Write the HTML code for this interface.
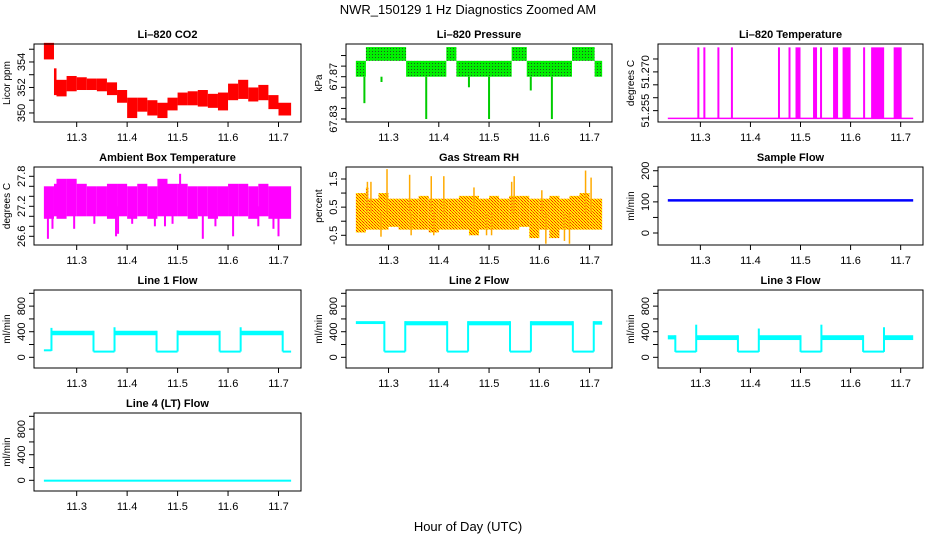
<!DOCTYPE html>
<html><head><meta charset="utf-8"><style>
body{margin:0;background:#fff}
svg{display:block;font-family:"Liberation Sans",Arial,sans-serif}
</style></head><body>
<svg id="c" width="936" height="540" viewBox="0 0 936 540" xmlns="http://www.w3.org/2000/svg">
<defs>
<pattern id="pg" width="3" height="3" patternUnits="userSpaceOnUse"><rect width="3" height="3" fill="#00f000"/><rect width="1" height="1" fill="#225522"/></pattern>
<pattern id="py" width="3" height="3" patternUnits="userSpaceOnUse"><rect width="3" height="3" fill="#ffee00"/><rect width="1" height="1" fill="#ff2000"/><rect x="1" y="1" width="1" height="1" fill="#ff6000"/><rect x="2" y="2" width="1" height="1" fill="#ff3000"/></pattern>
</defs>
<text x="468" y="14" text-anchor="middle" font-size="13">NWR_150129  1 Hz Diagnostics Zoomed AM</text>
<text x="468" y="531" text-anchor="middle" font-size="13">Hour of Day (UTC)</text>
</svg>
<script>
// ---- data ----
const binStart = [11.235,11.255,11.26,11.28,11.30,11.32,11.34,11.36,11.38,11.40,11.42,11.44,11.46,11.48,11.50,11.52,11.54,11.56,11.58,11.60,11.62,11.64,11.66,11.68,11.70];
const binEnd   = [11.255,11.26,11.28,11.30,11.32,11.34,11.36,11.38,11.40,11.42,11.44,11.46,11.48,11.50,11.52,11.54,11.56,11.58,11.60,11.62,11.64,11.66,11.68,11.70,11.725];
const co2Lo = [354.2,351.4,351.3,351.7,351.8,351.8,351.7,351.4,350.8,349.6,350.1,349.8,349.6,350.2,350.6,350.6,350.5,350.4,350.2,351.0,351.1,350.9,351.0,350.3,349.8];
const co2Hi = [355.5,353.5,352.6,352.9,352.8,352.7,352.7,352.4,351.8,351.2,351.2,351.0,350.8,351.2,351.6,351.7,351.8,351.5,351.6,352.3,352.6,352.0,352.2,351.4,350.8];
const ambLo = [26.95,27.0,26.95,27.0,27.0,27.0,27.0,26.95,27.0,26.95,27.0,26.95,27.0,27.0,27.0,26.95,27.0,26.95,27.0,27.0,27.0,26.95,27.0,26.95,26.95];
const ambHi = [27.6,27.65,27.75,27.75,27.65,27.6,27.6,27.65,27.65,27.6,27.65,27.6,27.75,27.65,27.65,27.6,27.6,27.6,27.6,27.65,27.65,27.6,27.65,27.6,27.6];
const ambSpikeT = [11.243,11.252,11.295,11.335,11.378,11.382,11.41,11.455,11.475,11.49,11.505,11.55,11.575,11.61,11.66,11.69,11.70];
const ambSpikeV = [26.55,26.75,26.75,26.85,26.6,26.65,26.85,26.8,26.8,26.85,27.85,26.55,26.8,26.6,26.8,26.75,26.6];
const rhLo = [-0.4,-0.3,-0.3,-0.3,-0.2,-0.3,-0.3,-0.3,-0.4,-0.3,-0.3,-0.3,-0.5,-0.3,-0.3,-0.3,-0.3,-0.2,-0.6,-0.3,-0.6,-0.3,-0.3,-0.3,-0.3];
const rhHi = [1.0,1.2,0.8,1.0,0.8,0.8,0.8,0.9,0.8,0.8,0.8,0.9,0.9,0.8,0.9,0.8,0.9,0.9,0.8,0.8,0.9,0.8,0.9,1.0,0.8];
const rhSpikeT = [11.258,11.265,11.297,11.342,11.385,11.41,11.47,11.545,11.55,11.605,11.692,11.703,11.285,11.345,11.39,11.495,11.505,11.613,11.65,11.66];
const rhSpikeV = [1.4,1.4,1.85,1.65,1.6,1.6,1.2,1.4,1.6,1.1,1.8,1.55,-0.55,-0.5,-0.5,-0.5,-0.5,-0.8,-0.7,-0.8];
const presStart = [11.235,11.255,11.335,11.415,11.435,11.545,11.575,11.665,11.71];
const presEnd   = [11.255,11.335,11.415,11.435,11.545,11.575,11.665,11.71,11.725];
const presLo = [67.870,67.885,67.870,67.885,67.870,67.885,67.870,67.885,67.870];
const presHi = [67.885,67.898,67.885,67.898,67.885,67.898,67.885,67.898,67.885];
const presSpikeT = [11.252,11.286,11.375,11.46,11.50,11.583,11.625];
const presSpikeV = [67.845,67.865,67.830,67.860,67.830,67.857,67.830];
const tempHighStart = [11.294,11.306,11.334,11.361,11.455,11.476,11.490,11.525,11.539,11.565,11.584,11.625,11.641,11.686];
const tempHighEnd   = [11.296,11.308,11.336,11.363,11.457,11.478,11.500,11.533,11.541,11.575,11.600,11.628,11.667,11.702];
const tempBase = 51.252, tempHigh = 51.2795;
const sampleT = [11.235,11.725];
const sampleV = [105,105];
const l1T  = [11.235,11.25,11.3333,11.375,11.4583,11.5,11.5833,11.625,11.7083,11.725];
const l1Lo = [100,345,90,345,90,345,90,345,90];
const l1Hi = [125,415,105,415,105,415,105,415,105];
const l2T  = [11.235,11.2917,11.3333,11.4167,11.4583,11.5417,11.5833,11.6667,11.7083,11.725];
const l2Lo = [520,90,500,90,500,90,500,90,510];
const l2Hi = [565,105,565,105,565,105,565,105,565];
const l3T  = [11.235,11.25,11.2917,11.375,11.4167,11.5,11.5417,11.625,11.6667,11.725];
const l3Lo = [280,85,270,85,270,85,270,85,270];
const l3Hi = [345,105,345,105,345,105,345,105,345];
const l3Spike = [0,0,510,0,450,0,510,0,470];
const l4T  = [11.235,11.725];
const l4Lo = [0];
const l4Hi = [10];
const xTicks = [11.3,11.4,11.5,11.6,11.7];

// ---- layout ----
const svg = document.getElementById('c');
const NS = 'http://www.w3.org/2000/svg';
const colL = [34,346,658], colR = [301,612,923];
const rowT = [44,167,290,413], H = 78;
const XMIN = 11.2154, XMAX = 11.7446;
function mk(tag, attrs, parent){const e=document.createElementNS(NS,tag);for(const k in attrs)e.setAttribute(k,attrs[k]);(parent||svg).appendChild(e);return e;}

function panel(name, title, ytitle, col, row, ylo, yhi, ticks, labels){
  const g = mk('g',{});
  
  
  const L=colL[col], R=colR[col], T=rowT[row], B=T+H;
  const sx = v => L + (v-XMIN)/(XMAX-XMIN)*(R-L);
  const sy = v => B - (v-ylo)/(yhi-ylo)*(B-T);
  const marks = mk('g',{},g);
  
  
  const box = mk('rect',{x:L,y:T,width:R-L,height:H,fill:'none',stroke:'#000','stroke-width':1},g);
  
  
  const t = mk('text',{x:(L+R)/2,y:T-6,'text-anchor':'middle','font-size':11,'font-weight':'bold'},g);
  t.textContent = title;
  
  
  const xa = mk('g',{stroke:'#000','stroke-width':1},g);
  
  
  mk('line',{x1:sx(xTicks[0]),x2:sx(xTicks[xTicks.length-1]),y1:B,y2:B},xa);
  xTicks.forEach(v=>{
    mk('line',{x1:sx(v),x2:sx(v),y1:B,y2:B+5},xa);
    const tl = mk('text',{x:sx(v),y:B+19,'text-anchor':'middle','font-size':11,stroke:'none'},xa);
    tl.textContent = v.toFixed(1);
    
    
  });
  const ya = mk('g',{stroke:'#000','stroke-width':1},g);
  
  
  mk('line',{x1:L,x2:L,y1:sy(ticks[0]),y2:sy(ticks[ticks.length-1])},ya);
  ticks.forEach(v=>mk('line',{x1:L-5,x2:L,y1:sy(v),y2:sy(v)},ya));
  labels.forEach(v=>{
    const y = sy(parseFloat(v));
    const tl = mk('text',{x:L-9,y:y,'text-anchor':'middle','font-size':11,stroke:'none',transform:`rotate(-90 ${L-9} ${y})`},ya);
    tl.textContent = v;
    
    
  });
  const yt = mk('text',{x:L-24,y:(T+B)/2,'text-anchor':'middle','font-size':10,transform:`rotate(-90 ${L-24} ${(T+B)/2})`},g);
  yt.textContent = ytitle;
  
  
  return {sx,sy,g:marks};
}
function bins(p, s, e, lo, hi, fill){
  for(let i=0;i<s.length;i++){
    const y1=p.sy(hi[i]), y2=p.sy(lo[i]);
    const r = mk('rect',{x:p.sx(s[i]),y:y1,width:Math.max(1,p.sx(e[i])-p.sx(s[i])),height:Math.max(1.5,y2-y1),fill:fill},p.g);
    
    
  }
}
function spikes(p, ts, vs, base, color, w){
  for(let i=0;i<ts.length;i++){
    const l = mk('line',{x1:p.sx(ts[i]),x2:p.sx(ts[i]),y1:p.sy(base),y2:p.sy(vs[i]),stroke:color,'stroke-width':w||1.5},p.g);
    
    
  }
}
function steps(p, T, lo, hi, color, spk){
  for(let i=0;i<lo.length;i++){
    const x1=p.sx(T[i]), x2=p.sx(T[i+1]);
    const r = mk('rect',{x:x1,y:p.sy(hi[i]),width:x2-x1,height:Math.max(2,p.sy(lo[i])-p.sy(hi[i])),fill:color},p.g);
    
    
    if(i>0){
      const top = Math.max(hi[i],hi[i-1], spk?spk[i]:0), bot = Math.min(lo[i],lo[i-1]);
      const l = mk('line',{x1:x1,x2:x1,y1:p.sy(top),y2:p.sy(bot),stroke:color,'stroke-width':2},p.g);
      
      
    }
  }
}

let p = panel('co2','Li–820 CO2','Licor ppm',0,0,349.29,355.41,[350,351,352,353,354,355],['350','352','354']);
bins(p,binStart,binEnd,co2Lo,co2Hi,'#ff0000');
p = panel('pressure','Li–820 Pressure','kPa',1,0,67.8272,67.9009,[67.83,67.84,67.85,67.86,67.87,67.88,67.89],['67.83','67.87']);
bins(p,presStart,presEnd,presLo,presHi,'url(#pg)');
spikes(p,presSpikeT,presSpikeV,67.87,'#00cc00',2);
p = panel('li820-temperature','Li–820 Temperature','degrees C',2,0,51.2506,51.2808,[51.255,51.26,51.265,51.27,51.275],['51.255','51.270']);
mk('line',{x1:p.sx(11.235),x2:p.sx(11.725),y1:p.sy(tempBase),y2:p.sy(tempBase),stroke:'#ff00ff','stroke-width':1.5},p.g);
for(let i=0;i<tempHighStart.length;i++){
  const r = mk('rect',{x:p.sx(tempHighStart[i]),y:p.sy(tempHigh),width:Math.max(2,p.sx(tempHighEnd[i])-p.sx(tempHighStart[i])),height:p.sy(tempBase)-p.sy(tempHigh),fill:'#ff00ff'},p.g);
  
  
}
p = panel('ambient-box-temperature','Ambient Box Temperature','degrees C',0,1,26.426,27.986,[26.6,26.8,27.0,27.2,27.4,27.6,27.8],['26.6','27.2','27.8']);
bins(p,binStart,binEnd,ambLo,ambHi,'#ff00ff');
spikes(p,ambSpikeT,ambSpikeV,27.2,'#ff00ff',2);
p = panel('gas-stream-rh','Gas Stream RH','percent',1,1,-0.845,1.926,[-0.5,0,0.5,1,1.5],['-0.5','0.5','1.5']);
bins(p,binStart,binEnd,rhLo,rhHi,'url(#py)');
spikes(p,rhSpikeT,rhSpikeV,0.3,'#ffaa00',1.5);
p = panel('sample-flow','Sample Flow','ml/min',2,1,-38.5,212,[0,50,100,150,200],['0','100','200']);
{const pl = mk('polyline',{points:sampleT.map((t,i)=>p.sx(t)+','+p.sy(sampleV[i])).join(' '),fill:'none',stroke:'#0000ff','stroke-width':2.5},p.g);

}
const fT=[0,200,400,600,800,1000], fL=['0','400','800'];
p = panel('line-1-flow','Line 1 Flow','ml/min',0,2,-167,1052,fT,fL); steps(p,l1T,l1Lo,l1Hi,'#00ffff',[0,460,0,470,0,420,0,470,0]);
p = panel('line-2-flow','Line 2 Flow','ml/min',1,2,-167,1052,fT,fL); steps(p,l2T,l2Lo,l2Hi,'#00ffff');
p = panel('line-3-flow','Line 3 Flow','ml/min',2,2,-167,1052,fT,fL); steps(p,l3T,l3Lo,l3Hi,'#00ffff',l3Spike);
p = panel('line-4-flow','Line 4 (LT) Flow','ml/min',0,3,-167,1052,fT,fL); steps(p,l4T,l4Lo,l4Hi,'#00ffff');
</script>
</body></html>
